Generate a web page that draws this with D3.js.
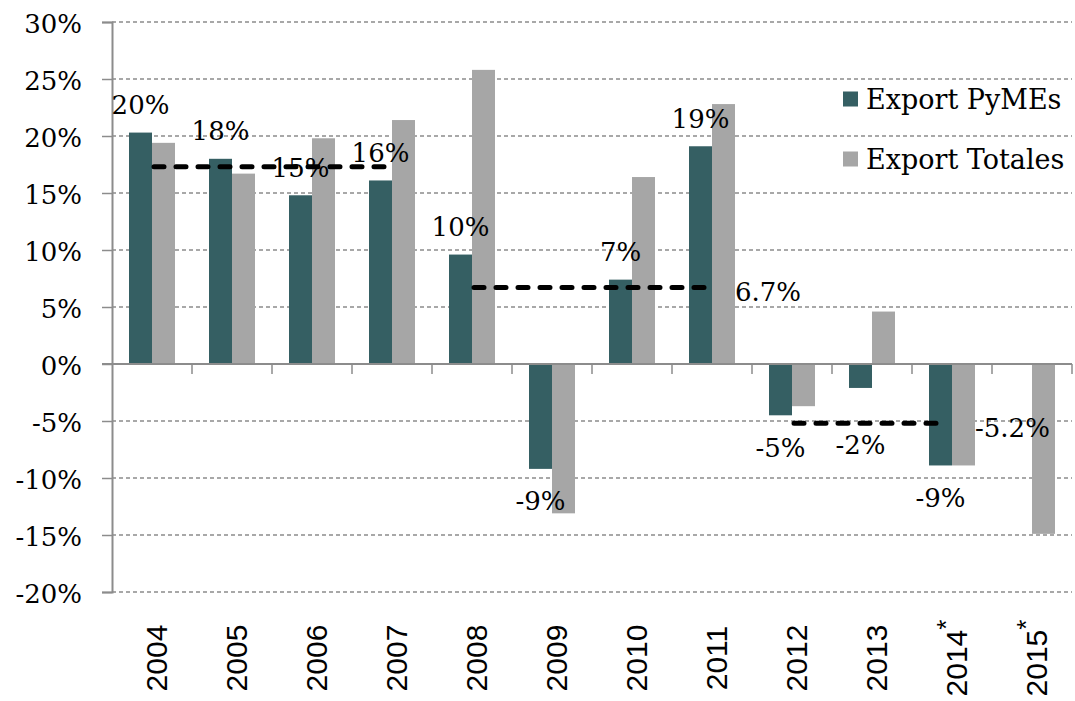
<!DOCTYPE html>
<html>
<head>
<meta charset="utf-8">
<script src="https://cdn.jsdelivr.net/npm/d3@7"></script>
<style>
  html, body { margin: 0; padding: 0; background: #fff; }
  svg { display: block; }
  .serif { font-family: 'DejaVu Serif', Georgia, serif; fill: #000; }
  .sans { font-family: 'Liberation Sans', Arial, sans-serif; fill: #000; }
</style>
</head>
<body>
<svg id="chart" width="1075" height="701"></svg>
<script>
// data (% growth)
const years = ['2004', '2005', '2006', '2007', '2008', '2009', '2010', '2011', '2012', '2013', '2014*', '2015*'];
const pymes = [20.3, 18.0, 14.8, 16.1, 9.6, -9.2, 7.4, 19.1, -4.5, -2.1, -8.9, null];
const totales = [19.4, 16.7, 19.8, 21.4, 25.8, -13.1, 16.4, 22.8, -3.7, 4.6, -8.9, -14.9];
const yTicks = [-20, -15, -10, -5, 0, 5, 10, 15, 20, 25, 30];

// period averages for PyMEs (dashed lines)
const avgFrom = ['2004', '2008', '2012'];
const avgTo = ['2007', '2011', '2014*'];
const avgValues = [17.3, 6.7, -5.2];
const avgShowLabel = [false, true, true];

const seriesNames = ['Export PyMEs', 'Export Totales'];
const colors = ['#355f63', '#a6a6a6'];

// label nudges so "-2%" clears the dashed line
const labelShift = {'2013': 25};

const width = 1075, height = 701;
const margin = {top: 22, right: 3, bottom: 109, left: 112};

const svg = d3.select('#chart');

const x = d3.scaleBand()
    .domain(years)
    .range([margin.left, width - margin.right]);

const xSub = d3.scaleBand()
    .domain([0, 1])
    .range([17, x.bandwidth() - 17]);

const y = d3.scaleLinear()
    .domain([-20, 30])
    .range([height - margin.bottom, margin.top]);

const gridColor = '#8c8c8c';

// excel style rounding (half away from zero)
const roundPct = v => Math.sign(v) * Math.round(Math.abs(v));

// grid lines (dashed)
svg.append('g')
    .selectAll('line')
    .data(yTicks.filter(d => d !== 0))
    .join('line')
    .attr('x1', margin.left)
    .attr('x2', width - margin.right)
    .attr('y1', d => y(d))
    .attr('y2', d => y(d))
    .attr('stroke', gridColor)
    .attr('stroke-width', 1.3)
    .attr('stroke-dasharray', '4,3');

// y axis
const yAxis = svg.append('g')
    .attr('transform', `translate(${margin.left},0)`)
    .call(d3.axisLeft(y)
        .tickValues(yTicks)
        .tickSize(10)
        .tickPadding(20)
        .tickFormat(d => `${d}%`));

yAxis.select('.domain').attr('stroke', gridColor).attr('stroke-width', 2);
yAxis.selectAll('.tick line').attr('stroke', gridColor).attr('stroke-width', 1.5);
yAxis.selectAll('.tick text')
    .attr('class', 'serif')
    .attr('font-size', 26)
    .attr('dy', '0.4em')
    .attr('fill', '#000');

// legend
const legend = svg.append('g');
seriesNames.forEach((name, i) => {
    const cy = 99 + i * 60;
    legend.append('rect')
        .attr('x', 843)
        .attr('y', cy - 7.5)
        .attr('width', 15)
        .attr('height', 15)
        .attr('fill', colors[i]);
    legend.append('text')
        .attr('class', 'serif')
        .attr('x', 866)
        .attr('y', cy)
        .attr('dy', '0.36em')
        .attr('font-size', 27)
        .text(name);
});

// bars
const groups = svg.append('g')
    .selectAll('g')
    .data(years.map((yr, i) => ({yr, vals: [pymes[i], totales[i]]})))
    .join('g')
    .attr('transform', d => `translate(${x(d.yr)},0)`);

groups.selectAll('rect')
    .data(d => d.vals.map((v, k) => ({v, k})).filter(e => e.v != null))
    .join('rect')
    .attr('x', e => xSub(e.k))
    .attr('width', xSub.bandwidth())
    .attr('y', e => y(Math.max(0, e.v)))
    .attr('height', e => Math.abs(y(e.v) - y(0)))
    .attr('fill', e => colors[e.k]);

// x axis at zero
const xAxis = svg.append('g')
    .attr('transform', `translate(0,${y(0)})`);

xAxis.append('line')
    .attr('x1', margin.left - 10)
    .attr('x2', width - margin.right)
    .attr('stroke', gridColor)
    .attr('stroke-width', 2);

xAxis.selectAll('.xtick')
    .data(years)
    .join('line')
    .attr('class', 'xtick')
    .attr('x1', d => x(d) + x.step())
    .attr('x2', d => x(d) + x.step())
    .attr('y1', 0)
    .attr('y2', 10)
    .attr('stroke', gridColor)
    .attr('stroke-width', 1.5);

// year labels (rotated)
const yearLabels = svg.append('g')
    .selectAll('text')
    .data(years)
    .join('text')
    .attr('class', 'sans')
    .attr('font-size', 30)
    .attr('text-anchor', 'middle')
    .attr('transform', d => `translate(${x(d) + x.bandwidth() / 2 + 15},658) rotate(-90)`);

yearLabels.append('tspan').text(d => d.replace('*', ''));
yearLabels.filter(d => d.includes('*'))
    .append('tspan')
    .attr('font-size', 26)
    .attr('dy', -12)
    .text('*');

// average dashed lines
const avgG = svg.append('g');
avgValues.forEach((v, i) => {
    const x1 = x(avgFrom[i]) + x.bandwidth() / 2;
    const x2 = x(avgTo[i]) + x.bandwidth() / 2;
    avgG.append('line')
        .attr('x1', x1 + 2)
        .attr('x2', x2 - 4)
        .attr('y1', y(v))
        .attr('y2', y(v))
        .attr('stroke', '#000')
        .attr('stroke-width', 5)
        .attr('stroke-linecap', 'round')
        .attr('stroke-dasharray', '10,12');
    if (avgShowLabel[i]) {
        avgG.append('text')
            .attr('class', 'serif')
            .attr('font-size', 26)
            .attr('x', x2 + 23)
            .attr('y', y(v) + 4)
            .attr('dy', '0.36em')
            .text(`${v.toFixed(1)}%`);
    }
});

// data labels for PyMEs
svg.append('g')
    .selectAll('text')
    .data(years.map((yr, i) => ({yr, v: pymes[i]})).filter(d => d.v != null))
    .join('text')
    .attr('class', 'serif')
    .attr('font-size', 26)
    .attr('text-anchor', 'middle')
    .attr('x', d => x(d.yr) + xSub(0) + xSub.bandwidth() / 2)
    .attr('y', d => (d.v >= 0 ? y(d.v) - 28 : y(d.v) + 32) + (labelShift[d.yr] || 0))
    .attr('dy', '0.36em')
    .text(d => `${roundPct(d.v)}%`);
</script>
</body>
</html>
